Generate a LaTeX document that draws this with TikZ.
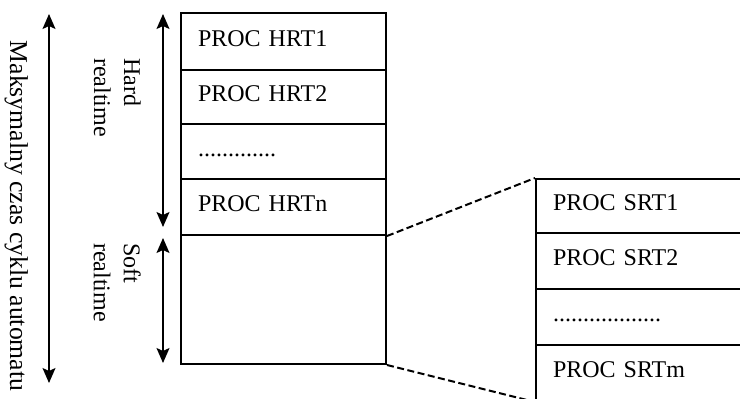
\documentclass[tikz,border=0pt]{standalone}
\usepackage{fontspec}
\setmainfont{Liberation Serif}
\usetikzlibrary{arrows.meta}
\begin{document}
\begin{tikzpicture}[x=1pt,y=-1pt,
  txt/.style={font=\fontsize{24}{30}\selectfont},
  cell/.style={txt, draw, line width=2pt, rectangle, inner xsep=17pt, inner ysep=0pt,
    align=left, text height=17pt, text depth=8pt},
  lcell/.style={cell, text width=171pt},
  rcell/.style={cell, text width=210pt},
  dashline/.style={line width=2pt, dash pattern=on 7pt off 3.5pt},
  span/.style={line width=1.5pt, {Stealth[length=15pt,width=13pt,inset=3pt]}-{Stealth[length=15pt,width=13pt,inset=3pt]}},
  vlab/.style={txt, rotate=-90, inner sep=0pt, align=left}]
\useasboundingbox (0,0) rectangle (740,399);
\clip (0,0) rectangle (740,399);

% hard/soft realtime process table
\node[lcell, minimum height=57pt] (hrt1) at (283.5,41.5) {PROC HRT1};
\node[lcell, minimum height=54pt] (hrt2) at (283.5,97) {PROC HRT2};
\node[lcell, minimum height=55pt] (hdots) at (283.5,151.5) {.............};
\node[lcell, minimum height=56pt] (hrtn) at (283.5,207) {PROC HRTn};
\node[lcell, minimum height=129pt] (soft) at (283.5,299.5) {};

% soft realtime processes, expanded
\node[rcell, minimum height=54pt] (srt1) at (658,206) {PROC SRT1};
\node[rcell, minimum height=56pt] (srt2) at (658,261) {PROC SRT2};
\node[rcell, minimum height=56pt] (sdots) at (658,317) {..................};
\node[rcell, minimum height=56pt] (srtm) at (658,373) {PROC SRTm};

\draw[dashline] (hrtn.south east) -- (srt1.north west);
\draw[dashline] (soft.south east) -- (srtm.south west);

% time spans
\coordinate (htop) at (163,14);
\coordinate (hbot) at (163,227);
\coordinate (stop) at (163,238);
\coordinate (sbot) at (163,363);
\coordinate (ctop) at (49,14);
\coordinate (cbot) at (49,383);
\draw[span] (htop) -- (hbot);
\draw[span] (stop) -- (sbot);
\draw[span] (ctop) -- (cbot);

\node[vlab, anchor=north west] (hardlab) at (141,58) {Hard\\realtime};
\node[vlab, anchor=north west] (softlab) at (141,243) {Soft\\realtime};
\node[font=\fontsize{25.7}{30}\selectfont, rotate=-90, inner sep=0pt, anchor=base] (cyclab) at (10,216) {Maksymalny czas cyklu automatu};
\end{tikzpicture}
\end{document}
